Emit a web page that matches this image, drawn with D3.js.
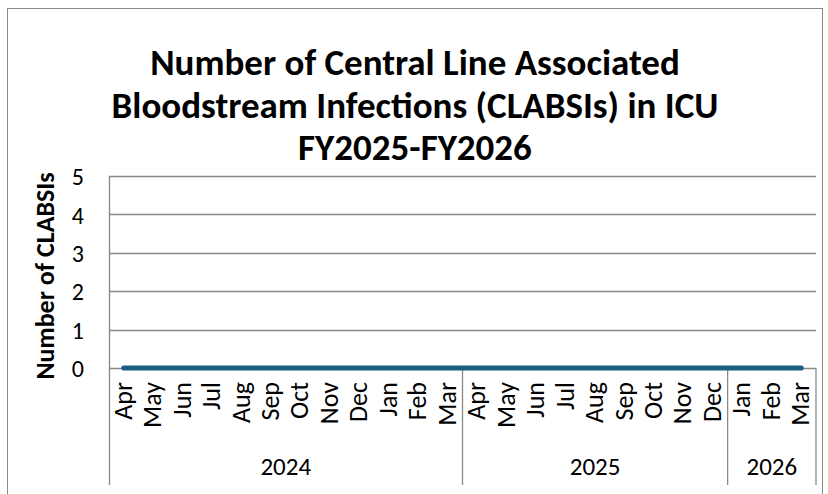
<!DOCTYPE html>
<html>
<head>
<meta charset="utf-8">
<script src="https://cdn.jsdelivr.net/npm/d3@7"></script>
<style>
  body { margin: 0; background: #fff; }
  svg text { font-family: Carlito, Calibri, Lato, "Open Sans", sans-serif; fill: #000; }
</style>
</head>
<body>
<svg id="chart"></svg>
<script>
// Chart data
const months = ["Apr", "May", "Jun", "Jul", "Aug", "Sep", "Oct", "Nov", "Dec", "Jan", "Feb", "Mar",
                "Apr", "May", "Jun", "Jul", "Aug", "Sep", "Oct", "Nov", "Dec", "Jan", "Feb", "Mar"];
const clabsiCounts = [0, 0, 0, 0, 0, 0, 0, 0, 0, 0, 0, 0,
                      0, 0, 0, 0, 0, 0, 0, 0, 0, 0, 0, 0];
const years = ["2024", "2025", "2026"];
const monthsPerYear = [12, 9, 3];
const yTicks = [0, 1, 2, 3, 4, 5];
const titleLines = ["Number of Central Line Associated", "Bloodstream Infections (CLABSIs) in ICU", "FY2025-FY2026"];

const width = 828;
const height = 494;
const margin = { top: 176, right: 12, bottom: 126, left: 109 };
const plotW = width - margin.left - margin.right;
const plotH = height - margin.top - margin.bottom;
const axisColor = "#898989";

const svg = d3.select("#chart")
  .attr("width", width)
  .attr("height", height);

// Outer chart border
svg.append("rect")
  .attr("x", 7.5).attr("y", 8.5)
  .attr("width", 815).attr("height", 500)
  .attr("fill", "none")
  .attr("stroke", axisColor)
  .attr("stroke-width", 1);

// Title
svg.append("text")
  .attr("text-anchor", "middle")
  .style("font-size", "37px")
  .style("font-weight", "bold")
  .selectAll("tspan")
  .data(titleLines)
  .enter()
  .append("tspan")
  .attr("x", 415)
  .attr("y", (d, i) => 75 + i * 42.5)
  .text(d => d);

const g = svg.append("g")
  .attr("transform", `translate(${margin.left},${margin.top})`);

// Scales
const x = d3.scaleBand()
  .domain(d3.range(months.length))
  .range([0, plotW])
  .padding(0);

const y = d3.scaleLinear()
  .domain([0, 5])
  .range([plotH, 0]);

// Gridlines
g.append("g")
  .selectAll("line")
  .data(yTicks)
  .enter()
  .append("line")
  .attr("x1", 0)
  .attr("x2", plotW)
  .attr("y1", d => Math.round(y(d)) + 0.5)
  .attr("y2", d => Math.round(y(d)) + 0.5)
  .attr("stroke", axisColor)
  .attr("stroke-width", 1.3);

// Y axis labels
const yAxis = d3.axisLeft(y)
  .tickValues(yTicks)
  .tickSize(0)
  .tickPadding(25)
  .tickFormat(d3.format("d"));

g.append("g")
  .call(yAxis)
  .call(sel => sel.select(".domain").remove())
  .selectAll("text")
  .attr("dy", "0.36em")
  .style("font-size", "24px")
  .style("font-family", "Carlito, Calibri, Lato, sans-serif");

// Y axis title
svg.append("text")
  .attr("transform", `translate(54,276) rotate(-90)`)
  .attr("text-anchor", "middle")
  .style("font-size", "26px")
  .style("font-weight", "bold")
  .text("Number of CLABSIs");

// Vertical axis line and category separators
const catBottom = plotH + 117;
const boundaries = [0];
monthsPerYear.reduce((acc, n) => { boundaries.push(acc + n); return acc + n; }, 0);

g.append("line")
  .attr("x1", 0.5).attr("x2", 0.5)
  .attr("y1", 0).attr("y2", catBottom)
  .attr("stroke", axisColor)
  .attr("stroke-width", 1.3);

g.append("g")
  .selectAll("line")
  .data(boundaries.slice(1))
  .enter()
  .append("line")
  .attr("x1", d => d < months.length ? x(d) : plotW)
  .attr("x2", d => d < months.length ? x(d) : plotW)
  .attr("y1", plotH)
  .attr("y2", catBottom)
  .attr("stroke", axisColor)
  .attr("stroke-width", 1.3);

// Month labels
g.append("g")
  .selectAll("text")
  .data(months)
  .enter()
  .append("text")
  .attr("transform", (d, i) => `translate(${x(i) + x.bandwidth() / 2 + 8},${plotH + 14}) rotate(-90)`)
  .attr("text-anchor", "end")
  .style("font-size", "26px")
  .text(d => d);

// Year labels
g.append("g")
  .selectAll("text")
  .data(years)
  .enter()
  .append("text")
  .attr("x", (d, i) => {
    const start = boundaries[i];
    const end = boundaries[i + 1];
    return (x(start) + (end < months.length ? x(end) : plotW)) / 2;
  })
  .attr("y", plotH + 107)
  .attr("text-anchor", "middle")
  .style("font-size", "25px")
  .text(d => d);

// Data line
const line = d3.line()
  .x((d, i) => x(i) + x.bandwidth() / 2)
  .y(d => y(d));

g.append("path")
  .datum(clabsiCounts)
  .attr("d", line)
  .attr("fill", "none")
  .attr("stroke", "#1b5f80")
  .attr("stroke-width", 5)
  .attr("stroke-linecap", "round")
  .attr("stroke-linejoin", "round");
</script>
</body>
</html>
